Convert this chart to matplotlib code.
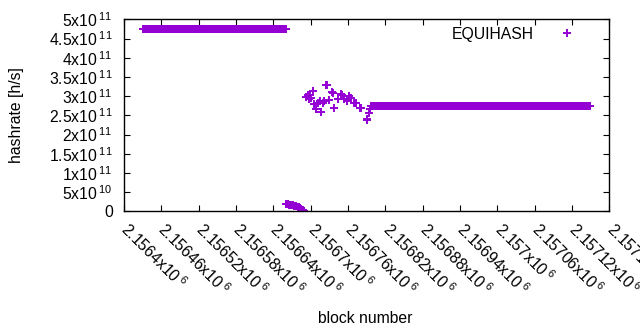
import numpy as np
import matplotlib
matplotlib.use("Agg")
import matplotlib.pyplot as plt

plt.rcParams['font.family'] = ['Liberation Sans', 'DejaVu Sans']
plt.rcParams['mathtext.fontset'] = 'custom'
plt.rcParams['mathtext.rm'] = 'Liberation Sans'
plt.rcParams['mathtext.it'] = 'Liberation Sans'

# data
# first long constant run
high_first, high_last = 2156431, 2156660
high_value = 4.74e11

# short dropping run after it
drop_blocks = [2156661, 2156663, 2156665, 2156667, 2156669, 2156671, 2156673, 2156675,
               2156677, 2156679, 2156681, 2156683, 2156685, 2156687, 2156689]
drop_values = [1.80e10, 1.78e10, 1.76e10, 1.74e10, 1.70e10, 1.62e10, 1.50e10, 1.40e10,
               1.30e10, 1.15e10, 1.00e10, 8.0e9, 6.0e9, 4.0e9, 1.5e9]

# scattered part
mid_blocks = [2156692, 2156696, 2156697, 2156699, 2156700, 2156704, 2156706, 2156709,
              2156712, 2156715, 2156717, 2156719, 2156721, 2156724, 2156726, 2156730,
              2156734, 2156736, 2156738, 2156743, 2156748, 2156750, 2156754, 2156759,
              2156762, 2156764, 2156770, 2156772, 2156779, 2156781, 2156790, 2156791,
              2156794, 2156795]
mid_values = [2.98e11, 3.03e11, 2.93e11, 3.04e11, 2.96e11, 3.13e11, 2.79e11, 2.66e11,
              2.83e11, 2.86e11, 2.59e11, 2.81e11, 2.87e11, 3.28e11, 3.30e11, 2.90e11,
              3.11e11, 3.08e11, 2.70e11, 2.92e11, 3.05e11, 3.02e11, 2.92e11, 2.87e11,
              3.00e11, 2.96e11, 2.83e11, 2.81e11, 2.70e11, 2.70e11, 2.41e11, 2.38e11,
              2.57e11, 2.66e11]

# second long constant run
flat_first, flat_last = 2156797, 2157149
flat_value = 2.73e11

xticks = [2156400, 2156460, 2156520, 2156580, 2156640, 2156700, 2156760,
          2156820, 2156880, 2156940, 2157000, 2157060, 2157120, 2157180]
xtick_labels = ['2.1564x10$^{\\;6}$', '2.15646x10$^{\\;6}$', '2.15652x10$^{\\;6}$',
                '2.15658x10$^{\\;6}$', '2.15664x10$^{\\;6}$', '2.1567x10$^{\\;6}$',
                '2.15676x10$^{\\;6}$', '2.15682x10$^{\\;6}$', '2.15688x10$^{\\;6}$',
                '2.15694x10$^{\\;6}$', '2.157x10$^{\\;6}$', '2.15706x10$^{\\;6}$',
                '2.15712x10$^{\\;6}$', '2.15718x10$^{\\;6}$']
yticks = [0, 5e10, 1e11, 1.5e11, 2e11, 2.5e11, 3e11, 3.5e11, 4e11, 4.5e11, 5e11]
ytick_labels = ['0', '5x10$^{\\;10}$', '1x10$^{\\;11}$', '1.5x10$^{\\;11}$', '2x10$^{\\;11}$',
                '2.5x10$^{\\;11}$', '3x10$^{\\;11}$', '3.5x10$^{\\;11}$', '4x10$^{\\;11}$',
                '4.5x10$^{\\;11}$', '5x10$^{\\;11}$']

high_blocks = np.arange(high_first, high_last + 1)
flat_blocks = np.arange(flat_first, flat_last + 1)
blocks = np.concatenate([high_blocks, drop_blocks, mid_blocks, flat_blocks])
values = np.concatenate([np.full(len(high_blocks), high_value), drop_values,
                         mid_values, np.full(len(flat_blocks), flat_value)])

color = '#9400d3'
fs = 11.3

fig = plt.figure(figsize=(6.4, 3.3), dpi=100)
ax = fig.add_axes([0.1938, 0.3597, 0.7585, 0.5818])

ax.plot(blocks, values, linestyle='none', marker='+', markersize=5.5,
        markeredgewidth=1.4, color=color, label='EQUIHASH')

ax.set_xlim(2156400, 2157180)
ax.set_ylim(0, 5e11)
ax.set_xticks(xticks)
ax.set_xticklabels(xtick_labels, rotation=-45, rotation_mode='anchor',
                   ha='left', va='center')
ax.set_yticks(yticks)
ax.set_yticklabels(ytick_labels)
ax.tick_params(direction='in', top=True, right=True, length=4, width=0.8,
               labelsize=fs, colors='black')
ax.tick_params(axis='x', pad=11)
ax.tick_params(axis='y', pad=8)
for s in ax.spines.values():
    s.set_linewidth(1.0)

ax.set_xlabel('block number', fontsize=fs, va='center')
ax.xaxis.set_label_coords(0.496, -0.56)
ax.set_ylabel('hashrate [h/s]', fontsize=fs, va='center')
ax.yaxis.set_label_coords(-0.222, 0.5)

ax.legend(loc='upper right', frameon=False, markerfirst=False, fontsize=fs,
          handlelength=3.2, handletextpad=0.5, borderpad=0, borderaxespad=0,
          bbox_to_anchor=(0.964, 0.96))

fig.savefig('out.png', dpi=100)
